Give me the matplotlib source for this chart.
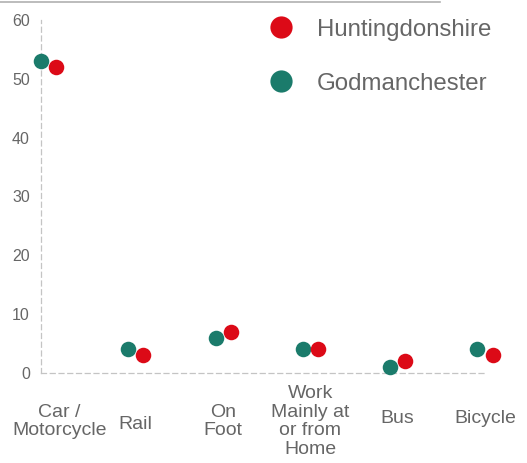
import matplotlib
matplotlib.use("Agg")
import matplotlib.pyplot as plt
import matplotlib.transforms as mtransforms
from matplotlib.lines import Line2D
import numpy as np

plt.rcParams['font.family'] = ['Liberation Sans', 'DejaVu Sans']

categories = ["Car /\nMotorcycle", "Rail", "On\nFoot", "Work\nMainly at\nor from\nHome", "Bus", "Bicycle"]
huntingdonshire = [52, 3, 7, 4, 2, 3]
godmanchester = [53, 4, 6, 4, 1, 4]
yticks = [0, 10, 20, 30, 40, 50, 60]

red = "#dc0a17"
green = "#1b7b6b"
grey_text = "#666666"

fig = plt.figure(figsize=(5.27, 4.63), dpi=100)
ax = fig.add_axes([41 / 527, 90 / 463, 444 / 527, 353 / 463])

x = np.arange(len(categories))
off = 0.086
ax.scatter(x - off, godmanchester, s=125, color=green, zorder=3, clip_on=False, linewidths=0)
ax.scatter(x + off, huntingdonshire, s=125, color=red, zorder=3, clip_on=False, linewidths=0)

ax.set_xlim(-off, 4.89)
ax.set_ylim(0, 60)
ax.set_yticks(yticks)
ax.set_yticklabels([str(v) for v in yticks])
ax.set_xticks(x)
ax.set_xticklabels(categories)

for side in ["top", "right"]:
    ax.spines[side].set_visible(False)
for side in ["left", "bottom"]:
    ax.spines[side].set_color("#c4c4c4")
    ax.spines[side].set_linestyle((0, (4, 3)))
    ax.spines[side].set_linewidth(0.9)

ax.tick_params(axis="y", length=0, pad=8, labelsize=11.5, labelcolor=grey_text)
ax.tick_params(axis="x", length=0, pad=35, labelsize=14, labelcolor=grey_text)
for i, lab in enumerate(ax.get_xticklabels()):
    lab.set_va("center")
    lab.set_linespacing(1.12)
    if i == 0:
        lab.set_transform(lab.get_transform() + mtransforms.ScaledTranslation(11 / 100, 0, fig.dpi_scale_trans))
    if i == 1:
        lab.set_transform(lab.get_transform() + mtransforms.ScaledTranslation(0, -3 / 100, fig.dpi_scale_trans))
    if i in (4, 5):
        lab.set_transform(lab.get_transform() + mtransforms.ScaledTranslation(0, 3 / 100, fig.dpi_scale_trans))

handles = [
    Line2D([], [], marker="o", linestyle="none", markersize=16, color=red, markeredgewidth=0),
    Line2D([], [], marker="o", linestyle="none", markersize=16, color=green, markeredgewidth=0),
]
fig.legend(handles, ["Huntingdonshire", "Godmanchester"], loc="upper left",
           bbox_to_anchor=(247 / 527, 1 - 9 / 463), frameon=False, fontsize=17.3,
           labelcolor=grey_text, labelspacing=1.33, handletextpad=0.5, borderaxespad=0)

fig.add_artist(Line2D([0, 440 / 527], [1 - 1.5 / 463, 1 - 1.5 / 463], transform=fig.transFigure,
                      color="#b0b0b0", linewidth=1.2))

fig.savefig("out.png", dpi=100)
